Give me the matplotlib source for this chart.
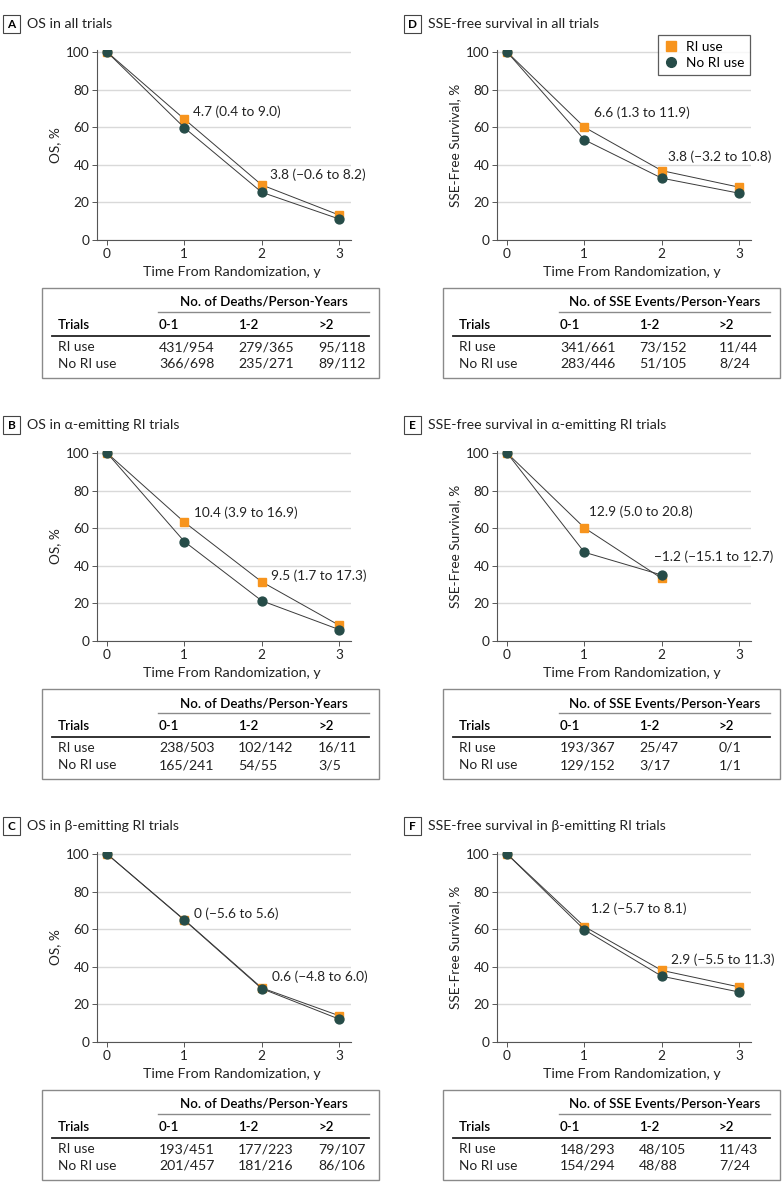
import matplotlib
matplotlib.use('Agg')
import matplotlib.pyplot as plt
from matplotlib.lines import Line2D
from matplotlib.patches import Rectangle

plt.rcParams['font.family'] = ['Lato', 'DejaVu Sans']

# 数据
years = [0, 1, 2, 3]

os_all_ri = [100, 64.3, 29.3, 13.3]
os_all_no = [100, 59.7, 25.4, 11.2]
os_alpha_ri = [100, 63.2, 31.5, 8.4]
os_alpha_no = [100, 52.9, 21.4, 6.1]
os_beta_ri = [100, 65.0, 28.8, 14.0]
os_beta_no = [100, 64.8, 28.4, 12.2]

sse_all_ri = [100, 60.0, 36.9, 28.1]
sse_all_no = [100, 53.3, 32.9, 24.9]
sse_alpha_ri = [100, 60.2, 33.3]
sse_alpha_no = [100, 47.2, 35.1]
sse_beta_ri = [100, 61.4, 38.1, 29.3]
sse_beta_no = [100, 59.7, 35.0, 26.6]

notes_os_all = ["4.7 (0.4 to 9.0)", "3.8 (−0.6 to 8.2)"]
notes_os_alpha = ["10.4 (3.9 to 16.9)", "9.5 (1.7 to 17.3)"]
notes_os_beta = ["0 (−5.6 to 5.6)", "0.6 (−4.8 to 6.0)"]
notes_sse_all = ["6.6 (1.3 to 11.9)", "3.8 (−3.2 to 10.8)"]
notes_sse_alpha = ["12.9 (5.0 to 20.8)", "−1.2 (−15.1 to 12.7)"]
notes_sse_beta = ["1.2 (−5.7 to 8.1)", "2.9 (−5.5 to 11.3)"]

periods = ["0-1", "1-2", ">2"]
tab_os_all = [["431/954", "279/365", "95/118"], ["366/698", "235/271", "89/112"]]
tab_os_alpha = [["238/503", "102/142", "16/11"], ["165/241", "54/55", "3/5"]]
tab_os_beta = [["193/451", "177/223", "79/107"], ["201/457", "181/216", "86/106"]]
tab_sse_all = [["341/661", "73/152", "11/44"], ["283/446", "51/105", "8/24"]]
tab_sse_alpha = [["193/367", "25/47", "0/1"], ["129/152", "3/17", "1/1"]]
tab_sse_beta = [["148/293", "48/105", "11/43"], ["154/294", "48/88", "7/24"]]

# 面板设置
panels = [
    ("A", "OS in all trials", os_all_ri, os_all_no, notes_os_all, tab_os_all,
     "OS, %", "No. of Deaths/Person-Years", 0, 0),
    ("B", "OS in α-emitting RI trials", os_alpha_ri, os_alpha_no, notes_os_alpha, tab_os_alpha,
     "OS, %", "No. of Deaths/Person-Years", 0, 1),
    ("C", "OS in β-emitting RI trials", os_beta_ri, os_beta_no, notes_os_beta, tab_os_beta,
     "OS, %", "No. of Deaths/Person-Years", 0, 2),
    ("D", "SSE-free survival in all trials", sse_all_ri, sse_all_no, notes_sse_all, tab_sse_all,
     "SSE-Free Survival, %", "No. of SSE Events/Person-Years", 1, 0),
    ("E", "SSE-free survival in α-emitting RI trials", sse_alpha_ri, sse_alpha_no, notes_sse_alpha,
     tab_sse_alpha, "SSE-Free Survival, %", "No. of SSE Events/Person-Years", 1, 1),
    ("F", "SSE-free survival in β-emitting RI trials", sse_beta_ri, sse_beta_no, notes_sse_beta,
     tab_sse_beta, "SSE-Free Survival, %", "No. of SSE Events/Person-Years", 1, 2),
]
# 注释文字位置 (数据坐标)
note_pos = {
    "A": [(1.11, 68.0), (2.11, 34.6)],
    "B": [(1.13, 68.0), (2.12, 34.5)],
    "C": [(1.13, 68.2), (2.13, 34.9)],
    "D": [(1.13, 67.5), (2.08, 44.4)],
    "E": [(1.06, 68.5), (1.90, 44.8)],
    "F": [(1.09, 71.0), (2.12, 43.7)],
}

W, H = 783, 1202
ORANGE = '#F7941D'
TEAL = '#264C48'
LINE = '#3a3a3a'
fs = 9.8

fig = plt.figure(figsize=(W / 100, H / 100), dpi=100)

for letter, title, ri, no, notes, tab, ylab, head, col, row in panels:
    dx = col * 400
    dy = row * 401
    left, right = 97 + dx, 351 + dx
    y0 = 240 + dy
    top = y0 - 188 * 1.01
    ax = fig.add_axes([left / W, 1 - y0 / H, (right - left) / W, (y0 - top) / H])
    ax.plot(years[:len(ri)], ri, color=LINE, lw=0.7, marker='s', ms=6.2,
            mfc=ORANGE, mec=ORANGE, zorder=3)
    ax.plot(years[:len(no)], no, color=LINE, lw=0.7, marker='o', ms=6.4,
            mfc=TEAL, mec=TEAL, zorder=4)
    for txt, (tx, ty) in zip(notes, note_pos[letter]):
        ax.text(tx, ty, txt, fontsize=fs, va='center', ha='left', color='#222222')
    ax.set_xlim(-0.13, 3.155)
    ax.set_ylim(0, 101)
    ax.set_xticks(years)
    ax.set_yticks([0, 20, 40, 60, 80, 100])
    ax.grid(axis='y', color='#d9d9d9', lw=1.0)
    ax.set_axisbelow(True)
    for s in ['top', 'right']:
        ax.spines[s].set_visible(False)
    for s in ['left', 'bottom']:
        ax.spines[s].set_color('#555555')
        ax.spines[s].set_linewidth(0.8)
    ax.tick_params(direction='out', length=3.5, width=0.7, color='#555555',
                   labelsize=fs, labelcolor='#222222', pad=2)
    ax.set_ylabel(ylab, fontsize=fs, color='#222222', labelpad=3)
    ax.set_xlabel('Time From Randomization, y', fontsize=10.2, color='#222222')
    ax.xaxis.set_label_coords(0.53, -0.135)

    if letter == "D":
        handles = [Line2D([], [], ls='none', marker='s', ms=7, mfc=ORANGE, mec=ORANGE),
                   Line2D([], [], ls='none', marker='o', ms=7, mfc=TEAL, mec=TEAL)]
        leg = ax.legend(handles, ['RI use', 'No RI use'], loc='upper right',
                        bbox_to_anchor=(757 / W, 1 - 28 / H), bbox_transform=fig.transFigure,
                        fontsize=fs, frameon=True, fancybox=False, handlelength=1.0,
                        handletextpad=0.6, borderpad=0.45, labelspacing=0.3)
        leg.get_frame().set_edgecolor('#333333')
        leg.get_frame().set_linewidth(0.9)

# 覆盖层: 面板标签和表格 (像素坐标)
ov = fig.add_axes([0, 0, 1, 1])
ov.set_xlim(0, W)
ov.set_ylim(H, 0)
ov.axis('off')

for letter, title, ri, no, notes, tab, ylab, head, col, row in panels:
    dx = col * 401
    dy = row * 401
    ov.add_patch(Rectangle((3 + dx, 15 + dy), 17, 18, fill=False, ec='#444444', lw=0.8))
    ov.text(11.5 + dx, 24.5 + dy, letter, fontsize=8.5, fontweight='bold', ha='center', va='center')
    ov.text(27 + dx, 24 + dy, title, fontsize=10.2, ha='left', va='center', color='#222222')

    # 表格
    ov.add_patch(Rectangle((42 + dx, 288 + dy), 337, 90, fill=False, ec='#8a8a8a', lw=1.0))
    ov.text(263.5 + dx, 302 + dy, head, fontsize=9.6, fontweight='semibold', ha='center', va='center')
    ov.plot([158 + dx, 369 + dx], [312 + dy, 312 + dy], color='#8a8a8a', lw=1.0)
    ov.plot([52 + dx, 369 + dx], [336 + dy, 336 + dy], color='#222222', lw=1.3)
    ov.text(58 + dx, 325 + dy, 'Trials', fontsize=9.6, fontweight='semibold', ha='left', va='center')
    xs = [159, 238, 318]
    for xp, p in zip(xs, periods):
        ov.text(xp + dx, 325 + dy, p, fontsize=9.6, fontweight='semibold', ha='left', va='center')
    for yr, name, vals in zip([347, 364], ['RI use', 'No RI use'], tab):
        ov.text(58 + dx, yr + dy, name, fontsize=fs, ha='left', va='center', color='#222222')
        for xp, v in zip(xs, vals):
            ov.text(xp + dx, yr + dy, v, fontsize=10.2, ha='left', va='center', color='#222222')

plt.savefig('out.png', dpi=100)
